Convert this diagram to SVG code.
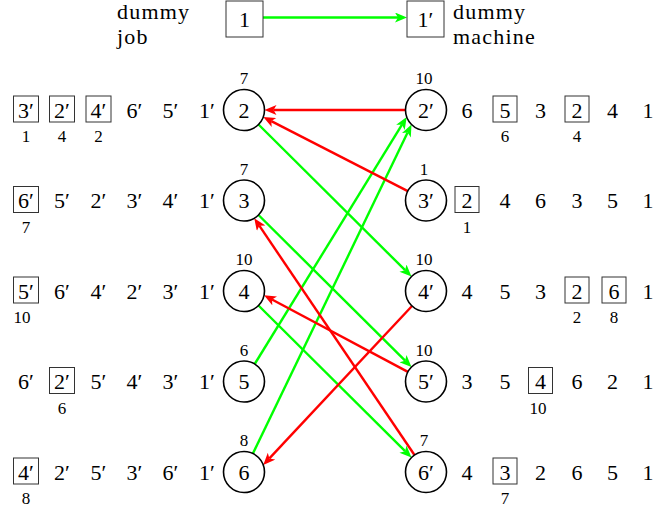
<svg xmlns="http://www.w3.org/2000/svg" width="655" height="507" viewBox="0 0 655 507" font-family="'Liberation Serif', 'DejaVu Serif', serif">
<style>
text{font-family:'Liberation Serif','DejaVu Serif',serif;fill:#000}
.t{font-size:22px;text-anchor:middle}
.s{font-size:17px;text-anchor:middle}
.l{font-size:22px;letter-spacing:1.2px}
.c{fill:#fff;stroke:#000;stroke-width:1.6}
.b{fill:none;stroke:#333;stroke-width:1}
.g{stroke:#00ff00;stroke-width:2.4;fill:none;marker-end:url(#ag)}
.r{stroke:#ff0000;stroke-width:2.4;fill:none;marker-end:url(#ar)}
</style>
<defs>
<marker id="ag" viewBox="0 0 12 10" markerWidth="13" markerHeight="10" markerUnits="userSpaceOnUse" refX="3" refY="5" orient="auto"><path d="M0,0 L12,5 L0,10 L3,5 z" fill="#00ff00"/></marker>
<marker id="ar" viewBox="0 0 12 10" markerWidth="13" markerHeight="10" markerUnits="userSpaceOnUse" refX="3" refY="5" orient="auto"><path d="M0,0 L12,5 L0,10 L3,5 z" fill="#ff0000"/></marker>
</defs>
<rect width="655" height="507" fill="#fff"/>

<g id="connectors">
<line class="g" x1="263" y1="17.5" x2="398" y2="17.5"/>
<line class="g" x1="258.5" y1="124.5" x2="405.1" y2="270.2"/>
<line class="g" x1="258.5" y1="215" x2="405.1" y2="360.7"/>
<line class="g" x1="258.5" y1="305.5" x2="405.1" y2="451.2"/>
<line class="g" x1="254.7" y1="364" x2="402" y2="124.7"/>
<line class="g" x1="252.9" y1="453.5" x2="407.6" y2="132.6"/>
<line class="r" x1="405.5" y1="110" x2="273.5" y2="110"/>
<line class="r" x1="407.8" y1="191.1" x2="271.3" y2="121.1"/>
<line class="r" x1="412" y1="306" x2="269.4" y2="458.4"/>
<line class="r" x1="407.9" y1="371.9" x2="272" y2="299.5"/>
<line class="r" x1="414.5" y1="455" x2="259.3" y2="225.7"/>
</g>

<g id="dummy-job">
<text class="l" x="117" y="18.5">dummy</text>
<text class="l" x="117" y="44">job</text>
<rect class="b" x="226" y="1" width="37" height="36"/>
<text class="t" x="244.5" y="26.5">1</text>
</g>
<g id="dummy-machine">
<rect class="b" x="407" y="1" width="37" height="36"/>
<text class="t" x="425.5" y="26.5">1′</text>
<text class="l" x="453" y="18.5">dummy</text>
<text class="l" x="453" y="44">machine</text>
</g>

<g id="job2">
<circle class="c" cx="244" cy="110" r="20.5"/>
<text class="t" x="244" y="117.5">2</text>
<text class="s" x="244" y="84">7</text>
<rect class="b" x="13.5" y="96" width="25" height="26"/>
<rect class="b" x="49.5" y="96" width="25" height="26"/>
<rect class="b" x="86" y="96" width="25" height="26"/>
<text class="t" x="26" y="117.5">3′</text>
<text class="t" x="62" y="117.5">2′</text>
<text class="t" x="98.5" y="117.5">4′</text>
<text class="t" x="134.5" y="117.5">6′</text>
<text class="t" x="170.5" y="117.5">5′</text>
<text class="t" x="207" y="117.5">1′</text>
<text class="s" x="26" y="142">1</text>
<text class="s" x="62" y="142">4</text>
<text class="s" x="98.5" y="142">2</text>
</g>
<g id="job3">
<circle class="c" cx="244" cy="200.5" r="20.5"/>
<text class="t" x="244" y="208">3</text>
<text class="s" x="244" y="174.5">7</text>
<rect class="b" x="13.5" y="186.5" width="25" height="26"/>
<text class="t" x="26" y="208">6′</text>
<text class="t" x="62" y="208">5′</text>
<text class="t" x="98.5" y="208">2′</text>
<text class="t" x="134.5" y="208">3′</text>
<text class="t" x="170.5" y="208">4′</text>
<text class="t" x="207" y="208">1′</text>
<text class="s" x="26" y="232.5">7</text>
</g>
<g id="job4">
<circle class="c" cx="244" cy="291" r="20.5"/>
<text class="t" x="244" y="298.5">4</text>
<text class="s" x="244" y="265">10</text>
<rect class="b" x="13.5" y="277" width="25" height="26"/>
<text class="t" x="26" y="298.5">5′</text>
<text class="t" x="62" y="298.5">6′</text>
<text class="t" x="98.5" y="298.5">4′</text>
<text class="t" x="134.5" y="298.5">2′</text>
<text class="t" x="170.5" y="298.5">3′</text>
<text class="t" x="207" y="298.5">1′</text>
<text class="s" x="22" y="323">10</text>
</g>
<g id="job5">
<circle class="c" cx="244" cy="381.5" r="20.5"/>
<text class="t" x="244" y="389">5</text>
<text class="s" x="244" y="355.5">6</text>
<rect class="b" x="49.5" y="367.5" width="25" height="26"/>
<text class="t" x="26" y="389">6′</text>
<text class="t" x="62" y="389">2′</text>
<text class="t" x="98.5" y="389">5′</text>
<text class="t" x="134.5" y="389">4′</text>
<text class="t" x="170.5" y="389">3′</text>
<text class="t" x="207" y="389">1′</text>
<text class="s" x="62" y="413.5">6</text>
</g>
<g id="job6">
<circle class="c" cx="244" cy="472" r="20.5"/>
<text class="t" x="244" y="479.5">6</text>
<text class="s" x="244" y="446">8</text>
<rect class="b" x="13.5" y="458" width="25" height="26"/>
<text class="t" x="26" y="479.5">4′</text>
<text class="t" x="62" y="479.5">2′</text>
<text class="t" x="98.5" y="479.5">5′</text>
<text class="t" x="134.5" y="479.5">3′</text>
<text class="t" x="170.5" y="479.5">6′</text>
<text class="t" x="207" y="479.5">1′</text>
<text class="s" x="26" y="504">8</text>
</g>

<g id="machine2">
<circle class="c" cx="426" cy="110" r="20.5"/>
<text class="t" x="426" y="117.5">2′</text>
<text class="s" x="424" y="84">10</text>
<rect class="b" x="493" y="96" width="24" height="26"/>
<rect class="b" x="565" y="96" width="24" height="26"/>
<text class="t" x="467" y="117.5">6</text>
<text class="t" x="505" y="117.5">5</text>
<text class="t" x="540.5" y="117.5">3</text>
<text class="t" x="577" y="117.5">2</text>
<text class="t" x="612.5" y="117.5">4</text>
<text class="t" x="648" y="117.5">1</text>
<text class="s" x="505" y="142">6</text>
<text class="s" x="577" y="142">4</text>
</g>
<g id="machine3">
<circle class="c" cx="426" cy="200.5" r="20.5"/>
<text class="t" x="426" y="208">3′</text>
<text class="s" x="424" y="174.5">1</text>
<rect class="b" x="455" y="186.5" width="24" height="26"/>
<text class="t" x="467" y="208">2</text>
<text class="t" x="505" y="208">4</text>
<text class="t" x="540.5" y="208">6</text>
<text class="t" x="577" y="208">3</text>
<text class="t" x="612.5" y="208">5</text>
<text class="t" x="648" y="208">1</text>
<text class="s" x="467" y="232.5">1</text>
</g>
<g id="machine4">
<circle class="c" cx="426" cy="291" r="20.5"/>
<text class="t" x="426" y="298.5">4′</text>
<text class="s" x="424" y="265">10</text>
<rect class="b" x="565" y="277" width="24" height="26"/>
<rect class="b" x="602" y="277" width="24" height="26"/>
<text class="t" x="467" y="298.5">4</text>
<text class="t" x="505" y="298.5">5</text>
<text class="t" x="540.5" y="298.5">3</text>
<text class="t" x="577" y="298.5">2</text>
<text class="t" x="614" y="298.5">6</text>
<text class="t" x="648" y="298.5">1</text>
<text class="s" x="577" y="323">2</text>
<text class="s" x="614" y="323">8</text>
</g>
<g id="machine5">
<circle class="c" cx="426" cy="381.5" r="20.5"/>
<text class="t" x="426" y="389">5′</text>
<text class="s" x="424" y="355.5">10</text>
<rect class="b" x="528.5" y="367.5" width="24" height="26"/>
<text class="t" x="467" y="389">3</text>
<text class="t" x="505" y="389">5</text>
<text class="t" x="540.5" y="389">4</text>
<text class="t" x="577" y="389">6</text>
<text class="t" x="612.5" y="389">2</text>
<text class="t" x="648" y="389">1</text>
<text class="s" x="538" y="413.5">10</text>
</g>
<g id="machine6">
<circle class="c" cx="426" cy="472" r="20.5"/>
<text class="t" x="426" y="479.5">6′</text>
<text class="s" x="424" y="446">7</text>
<rect class="b" x="493" y="458" width="24" height="26"/>
<text class="t" x="467" y="479.5">4</text>
<text class="t" x="505" y="479.5">3</text>
<text class="t" x="540.5" y="479.5">2</text>
<text class="t" x="577" y="479.5">6</text>
<text class="t" x="612.5" y="479.5">5</text>
<text class="t" x="648" y="479.5">1</text>
<text class="s" x="505" y="504">7</text>
</g>
</svg>
